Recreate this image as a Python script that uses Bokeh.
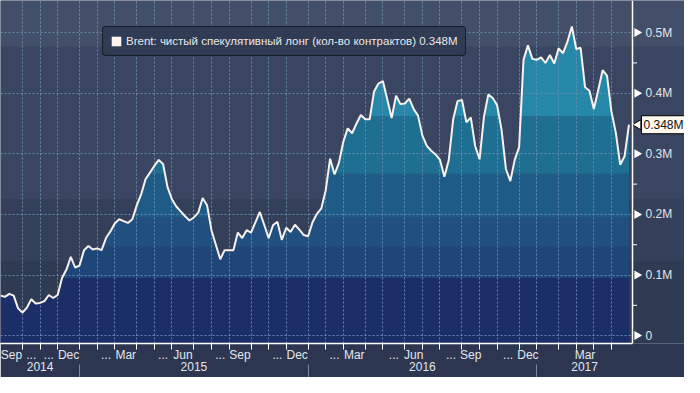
import numpy as np
import pandas as pd
from bokeh.plotting import figure
from bokeh.models import (Range1d, LinearAxis, FixedTicker, BoxAnnotation, Legend,
                          LegendItem, Label, Grid)
from bokeh.embed import file_html
from bokeh.resources import INLINE

# ---------------- data (thousands of contracts, weekly from 2014-09-02) ----------------
start_date = "2014-09-02"
net_long_k = [66, 64, 69, 66, 45, 38, 46, 60, 53, 54, 57, 67, 62, 67, 95, 109, 130, 112, 116, 141,
              148, 142, 144, 141, 161, 172, 185, 192, 189, 186, 192, 215, 233, 258, 269, 280, 290, 283, 245, 225,
              213, 205, 197, 190, 195, 203, 227, 215, 174, 150, 126, 141, 141, 141, 170, 161, 174, 170, 187, 204,
              183, 161, 182, 188, 158, 178, 171, 183, 175, 166, 164, 187, 201, 210, 240, 292, 266, 285, 320, 342,
              334, 350, 364, 357, 357, 403, 416, 420, 390, 359, 396, 382, 383, 391, 374, 363, 330, 313, 305, 299,
              290, 262, 290, 357, 387, 389, 352, 360, 313, 291, 361, 398, 392, 380, 340, 275, 255, 290, 311, 455,
              479, 457, 455, 459, 450, 463, 449, 474, 466, 485, 510, 473, 475, 410, 404, 374, 405, 438, 429, 370,
              335, 282, 296, 348]

# month labels, Sep 2014 .. May 2017
month_labels = ["Sep", "...", "...", "Dec",
                "", "...", "Mar", "", "...", "Jun", "", "...", "Sep", "", "...", "Dec",
                "", "...", "Mar", "", "...", "Jun", "", "...", "Sep", "", "...", "Dec",
                "", "", "Mar", "", ""]
year_labels = ["2014", "2015", "2016", "2017"]
y_ticks = [0, 100, 200, 300, 400, 500]
y_minor = [50, 150, 250, 350, 450]
y_tick_labels = ["0", "0.1M", "0.2M", "0.3M", "0.4M", "0.5M"]
legend_label = "Brent: чистый спекулятивный лонг (кол-во контрактов) 0.348M"
last_label = "0.348M"

# fill bands (value based) and background bands
fill_edges = [95, 147, 195, 267, 362]
fill_colors = ["#1c2e67", "#1f4679", "#214f80", "#1f5b87", "#1f6f93", "#2688a8"]
bg_edges = [123, 226, 477]
bg_colors = ["#2f3a53", "#343f59", "#3a4661", "#434e69"]

# ---------------- derived ----------------
N = len(net_long_k)
dates = pd.date_range(start_date, periods=N, freq="7D")
idx = np.arange(N)
W, H = 684, 377
axis_px = 632.0                 # pixel position of the value axis
axis_x = 143.8                  # x (week index) at the value axis
frame_x_end = axis_x * W / axis_px
px_x = axis_x / axis_px         # data units per pixel
y_start, y_end = -13, 553

per_m = dates.to_period("M")
month_starts = [i for i in range(1, N) if per_m[i] != per_m[i - 1]]
mseg = [0] + month_starts + [axis_x]
month_mids = [(mseg[i] + mseg[i + 1]) / 2 for i in range(len(mseg) - 1)]
per_y = dates.year
year_starts = [i for i in range(1, N) if per_y[i] != per_y[i - 1]]
yseg = [0] + year_starts + [axis_x]
year_mids = [(yseg[i] + yseg[i + 1]) / 2 for i in range(len(yseg) - 1)]

p = figure(width=W, height=H, output_backend="svg", toolbar_location=None,
           x_range=Range1d(0, frame_x_end), y_range=Range1d(y_start, y_end),
           x_axis_location=None, y_axis_location=None,
           min_border_left=0, min_border_top=0, min_border_right=0, min_border_bottom=34,
           background_fill_color=bg_colors[2], border_fill_color="#2c3650",
           outline_line_color=None)
p.xgrid.visible = False
p.ygrid.visible = False

# background bands
edges = [None] + bg_edges + [None]
for i, c in enumerate(bg_colors):
    p.add_layout(BoxAnnotation(bottom=edges[i], top=edges[i + 1], fill_color=c,
                               fill_alpha=1, line_color=None, level="image"))

# value-banded area fill
xs = np.linspace(0, N - 1, (N - 1) * 16 + 1)
vs = np.interp(xs, idx, net_long_k)
fe = [y_start] + fill_edges + [y_end]
for i, c in enumerate(fill_colors):
    lo, hi = fe[i], fe[i + 1]
    p.varea(x=xs, y1=lo, y2=np.clip(vs, lo, hi), fill_color=c, level="underlay")

# grids
xg = Grid(dimension=0, ticker=FixedTicker(ticks=month_starts))
yg = Grid(dimension=1, ticker=FixedTicker(ticks=y_ticks))
if "cross_bounds" in Grid.properties():
    yg.cross_bounds = (0, axis_x)
for g in (xg, yg):
    g.grid_line_color = "#6a90b5"
    g.grid_line_alpha = 0.9
    g.grid_line_dash = "2 2"
    g.grid_line_width = 1
    p.add_layout(g)

line_r = p.line(idx, net_long_k, line_color="#f8f2ee", line_width=2)

FONT = "Liberation Sans"
TXT = "#e2e6ec"

# x axis: months
ax1 = LinearAxis(ticker=FixedTicker(ticks=month_mids, minor_ticks=month_starts),
                 major_label_overrides={m: l for m, l in zip(month_mids, month_labels)},
                 bounds=(0, axis_x))
ax1.axis_line_color = "white"
ax1.axis_line_width = 1.5
ax1.major_tick_out = 0
ax1.major_tick_in = 0
ax1.minor_tick_out = 6
ax1.minor_tick_in = 0
ax1.minor_tick_line_color = "white"
ax1.major_label_text_font = FONT
ax1.major_label_text_font_size = "12px"
ax1.major_label_text_color = TXT
ax1.major_label_standoff = -2
p.add_layout(ax1, "below")

# x axis: years (separators drawn outward as minor ticks with negative "in" length)
ax2 = LinearAxis(ticker=FixedTicker(ticks=year_mids, minor_ticks=year_starts),
                 major_label_overrides={m: l for m, l in zip(year_mids, year_labels)},
                 bounds=(0, axis_x))
ax2.axis_line_color = None
ax2.major_tick_out = 0
ax2.major_tick_in = 0
ax2.minor_tick_out = 0
ax2.minor_tick_in = -22
ax2.minor_tick_line_color = "#7d8698"
ax2.major_label_text_font = FONT
ax2.major_label_text_font_size = "12px"
ax2.major_label_text_color = TXT
ax2.major_label_standoff = -3
p.add_layout(ax2, "below")

# value axis on the right, drawn at a fixed x inside the frame
ay = LinearAxis(ticker=FixedTicker(ticks=y_ticks, minor_ticks=y_minor),
                major_label_overrides={t: l for t, l in zip(y_ticks, y_tick_labels)},
                fixed_location=axis_x)
ay.axis_line_color = "white"
ay.axis_line_width = 1.5
ay.major_tick_out = 0
ay.major_tick_in = 0
ay.minor_tick_out = 0
ay.minor_tick_in = 0
ay.major_label_text_font = FONT
ay.major_label_text_font_size = "12px"
ay.major_label_text_color = TXT
ay.major_label_standoff = 13
p.add_layout(ay, "right")
# arrow-shaped major ticks and short minor ticks of the value axis
p.scatter(x=[axis_x + 4.5 * px_x] * len(y_ticks), y=y_ticks, marker="triangle", angle=-np.pi / 2,
          size=9, fill_color="white", line_color=None)
p.scatter(x=[axis_x + 2 * px_x] * len(y_minor), y=y_minor, marker="dash",
          size=5, line_color="white", line_width=1)

# legend
dummy = p.quad(left=np.array([np.nan]), right=np.array([np.nan]),
               top=np.array([np.nan]), bottom=np.array([np.nan]),
               fill_color="#fff4f0", line_color=None)
leg = Legend(items=[LegendItem(label=legend_label, renderers=[dummy])],
             location=(102, 287), orientation="vertical",
             background_fill_color="#303b54", background_fill_alpha=1,
             border_line_color="black", border_line_width=1.5,
             label_text_color="#e8e8e8", label_text_font=FONT, label_text_font_size="11.5px",
             glyph_width=12, glyph_height=12, label_height=14, label_standoff=4,
             padding=7, margin=0)
if "border_radius" in Legend.properties():
    leg.border_radius = 4
p.add_layout(leg)

# callout for last value
p.scatter(x=[axis_x + 5.5 * px_x], y=[net_long_k[-1]], marker="triangle", angle=np.pi / 2,
          size=10, fill_color="#fff8ee", line_color="black", line_width=1)
call = Label(x=axis_x + 9 * px_x, y=net_long_k[-1], x_units="data", y_units="data", text=last_label,
             text_color="#111111", text_font=FONT, text_font_size="12px", text_baseline="middle",
             background_fill_color="#fff8ee", border_line_color="black", border_line_width=1)
if "padding" in Label.properties():
    call.padding = 2
p.add_layout(call)

open("out.html", "w").write(file_html(p, INLINE))
